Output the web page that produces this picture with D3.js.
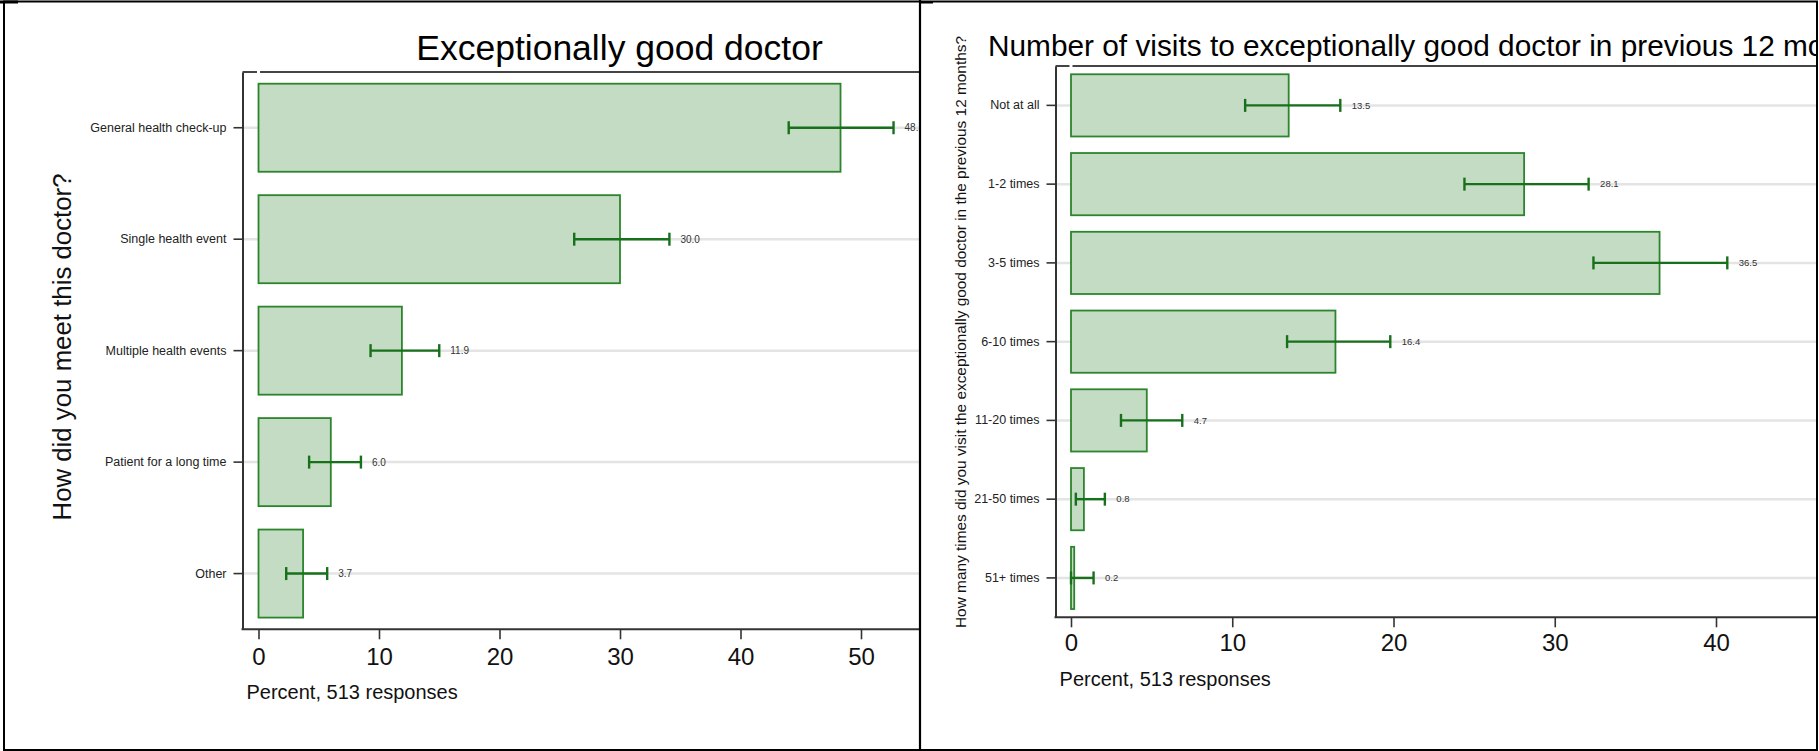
<!DOCTYPE html>
<html>
<head>
<meta charset="utf-8">
<script src="https://cdn.jsdelivr.net/npm/d3@7"></script>
<style>
  html, body { margin: 0; padding: 0; background: #ffffff; }
  svg { display: block; font-family: "Liberation Sans", Arial, Helvetica, sans-serif; }
</style>
</head>
<body>
<script>
// How respondents first met their exceptionally good doctor
const meetCategories = ["General health check-up", "Single health event", "Multiple health events", "Patient for a long time", "Other"];
const meetPercent = [48.3, 30.0, 11.9, 6.0, 3.7];
const meetLow = [44.0, 26.2, 9.3, 4.2, 2.3];
const meetHigh = [52.7, 34.1, 15.0, 8.5, 5.7];
const meetTicks = [0, 10, 20, 30, 40, 50];

// Number of visits in the previous 12 months
const visitCategories = ["Not at all", "1-2 times", "3-5 times", "6-10 times", "11-20 times", "21-50 times", "51+ times"];
const visitPercent = [13.5, 28.1, 36.5, 16.4, 4.7, 0.8, 0.2];
const visitLow = [10.8, 24.4, 32.4, 13.4, 3.1, 0.3, 0.0];
const visitHigh = [16.7, 32.1, 40.7, 19.8, 6.9, 2.1, 1.4];
const visitTicks = [0, 10, 20, 30, 40];

const W = 1819, H = 751;
const BAR_FILL = "#c4dbc4";
const BAR_STROKE = "#2c852c";
const CI_COLOR = "#17701a";
const GRID = "#e4e4e4";
const AXIS = "#333333";

const svg = d3.select("body").append("svg")
  .attr("width", W).attr("height", H)
  .attr("viewBox", `0 0 ${W} ${H}`);

svg.append("rect").attr("width", W).attr("height", H).attr("fill", "#ffffff");

const defs = svg.append("defs");

function drawPanel(o) {
  defs.append("clipPath").attr("id", o.id + "-clip")
    .append("rect").attr("x", o.clipX0).attr("y", 0)
    .attr("width", o.clipX1 - o.clipX0).attr("height", H);

  const g = svg.append("g").attr("clip-path", `url(#${o.id}-clip)`);

  const x = d3.scaleLinear().domain(o.xDomain).range(o.xRange);
  const y = d3.scaleBand().domain(o.categories)
    .range([o.top, o.bottom]).paddingInner(0.21).paddingOuter(0.105);
  const yc = d => y(d) + y.bandwidth() / 2;

  const rows = o.categories.map((c, i) => ({
    cat: c, value: o.values[i], lo: o.low[i], hi: o.high[i]
  }));

  // horizontal grid at each category
  g.append("g").selectAll("line").data(rows).join("line")
    .attr("x1", o.axisX).attr("x2", o.clipX1)
    .attr("y1", d => yc(d.cat)).attr("y2", d => yc(d.cat))
    .attr("stroke", GRID).attr("stroke-width", 2.5);

  // bars
  g.append("g").selectAll("rect").data(rows).join("rect")
    .attr("x", x(0))
    .attr("y", d => y(d.cat))
    .attr("width", d => x(d.value) - x(0))
    .attr("height", y.bandwidth())
    .attr("fill", BAR_FILL)
    .attr("stroke", BAR_STROKE)
    .attr("stroke-width", 1.8);

  // confidence intervals
  const ci = g.append("g").attr("stroke", CI_COLOR).attr("stroke-width", 2.4).attr("fill", "none");
  const capH = 6.5;
  ci.selectAll("line.span").data(rows).join("line").attr("class", "span")
    .attr("x1", d => x(d.lo)).attr("x2", d => x(d.hi))
    .attr("y1", d => yc(d.cat)).attr("y2", d => yc(d.cat));
  ci.selectAll("line.lo").data(rows).join("line").attr("class", "lo")
    .attr("x1", d => x(d.lo)).attr("x2", d => x(d.lo))
    .attr("y1", d => yc(d.cat) - capH).attr("y2", d => yc(d.cat) + capH);
  ci.selectAll("line.hi").data(rows).join("line").attr("class", "hi")
    .attr("x1", d => x(d.hi)).attr("x2", d => x(d.hi))
    .attr("y1", d => yc(d.cat) - capH).attr("y2", d => yc(d.cat) + capH);

  // value labels
  const fmt = d3.format(".1f");
  g.append("g").selectAll("text").data(rows).join("text")
    .attr("x", d => x(d.hi) + o.labelGap)
    .attr("y", d => yc(d.cat))
    .attr("dy", "0.35em")
    .attr("font-size", o.valueFont)
    .attr("fill", "#333")
    .text(d => fmt(d.value));

  // plot frame: top edge and bottom (x) axis line
  const frame = g.append("g").attr("stroke", AXIS).attr("stroke-width", 2);
  frame.append("line")
    .attr("x1", o.axisX).attr("x2", x(0) - 1.5)
    .attr("y1", o.top).attr("y2", o.top).attr("stroke", "#444");
  frame.append("line")
    .attr("x1", x(0) + 1.5).attr("x2", o.clipX1)
    .attr("y1", o.top).attr("y2", o.top).attr("stroke", "#444");
  frame.append("line")
    .attr("x1", o.axisX - 1).attr("x2", o.clipX1)
    .attr("y1", o.bottom).attr("y2", o.bottom);

  // left category axis
  const ya = g.append("g").attr("transform", `translate(${o.axisX},0)`)
    .call(d3.axisLeft(y).tickSize(9).tickSizeOuter(0).tickPadding(7));
  ya.select(".domain").attr("stroke", AXIS).attr("stroke-width", 2);
  ya.selectAll(".tick line").attr("stroke", AXIS).attr("stroke-width", 1.6);
  ya.selectAll(".tick text").attr("font-size", o.catFont).attr("fill", "#222")
    .attr("font-family", "Liberation Sans, Arial, sans-serif");

  // bottom value axis
  const xa = g.append("g").attr("transform", `translate(0,${o.bottom})`)
    .call(d3.axisBottom(x).tickValues(o.ticks).tickSize(10).tickSizeOuter(0).tickPadding(o.tickPad));
  xa.select(".domain").remove();
  xa.selectAll(".tick line").attr("stroke", AXIS).attr("stroke-width", 1.6);
  xa.selectAll(".tick text").attr("font-size", 24).attr("fill", "#111")
    .attr("font-family", "Liberation Sans, Arial, sans-serif");

  // axis titles
  g.append("text")
    .attr("x", o.xTitleX).attr("y", o.xTitleY).attr("dy", "0.35em")
    .attr("font-size", 20).attr("fill", "#111")
    .text("Percent, 513 responses");

  g.append("text")
    .attr("transform", `translate(${o.yTitleX},${o.yTitleY}) rotate(-90)`)
    .attr("text-anchor", "middle")
    .attr("font-size", o.yTitleFont).attr("fill", "#111")
    .text(o.yTitle);

  // chart title
  g.append("text")
    .attr("x", o.titleX).attr("y", o.titleY)
    .attr("text-anchor", o.titleAnchor)
    .attr("font-size", o.titleFont).attr("fill", "#000")
    .text(o.title);
}

drawPanel({
  id: "meet",
  categories: meetCategories, values: meetPercent, low: meetLow, high: meetHigh,
  ticks: meetTicks,
  xDomain: [0, 50], xRange: [258.5, 861],
  axisX: 242.5, top: 72, bottom: 629.3,
  clipX0: 0, clipX1: 919,
  labelGap: 11, valueFont: 10, catFont: 12.5, tickPad: 9,
  xTitleX: 246.5, xTitleY: 692,
  yTitle: "How did you meet this doctor?", yTitleX: 70.5, yTitleY: 347, yTitleFont: 25.8,
  title: "Exceptionally good doctor", titleX: 619.5, titleY: 60, titleAnchor: "middle", titleFont: 35.5
});

drawPanel({
  id: "visits",
  categories: visitCategories, values: visitPercent, low: visitLow, high: visitHigh,
  ticks: visitTicks,
  xDomain: [0, 40], xRange: [1071, 1716],
  axisX: 1055.5, top: 66, bottom: 617.3,
  clipX0: 921, clipX1: 1816,
  labelGap: 11.5, valueFont: 9.5, catFont: 12.5, tickPad: 7,
  xTitleX: 1059.6, xTitleY: 678.5,
  yTitle: "How many times did you visit the exceptionally good doctor in the previous 12 months?",
  yTitleX: 966, yTitleY: 332, yTitleFont: 15.4,
  title: "Number of visits to exceptionally good doctor in previous 12 months",
  titleX: 988, titleY: 55.5, titleAnchor: "start", titleFont: 29.8
});

// outer border and panel divider
const border = svg.append("g").attr("fill", "none").attr("stroke", "#000");
border.append("rect").attr("x", 4).attr("y", 1.5).attr("width", 1813).attr("height", 748.5).attr("stroke-width", 2);
border.append("line").attr("x1", 920).attr("x2", 920).attr("y1", 0).attr("y2", H).attr("stroke-width", 2.2);
svg.append("rect").attr("x", 0).attr("y", 0.5).attr("width", 18).attr("height", 3).attr("fill", "#000");
svg.append("rect").attr("x", 920).attr("y", 1).attr("width", 13).attr("height", 2.5).attr("fill", "#000");
</script>
</body>
</html>
